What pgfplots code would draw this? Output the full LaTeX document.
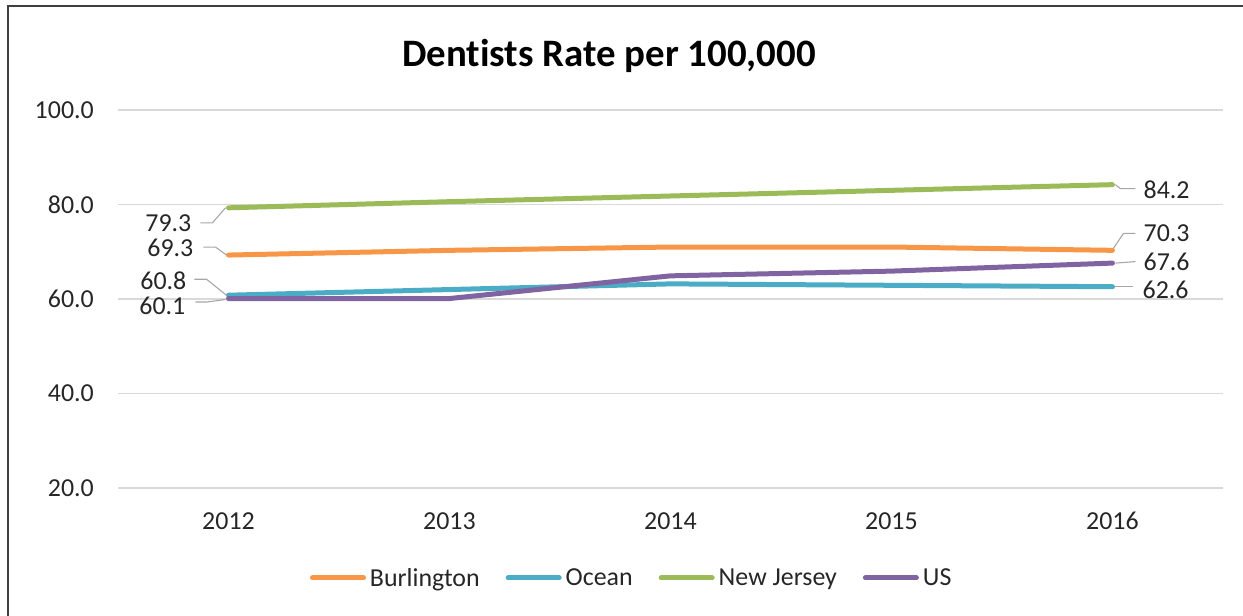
\documentclass[border=0pt]{standalone}
\usepackage{pgfplots}
\pgfplotsset{compat=1.18}
\usepackage{fontspec}
\setmainfont[Ligatures=NoCommon]{Carlito}

\definecolor{cBur}{HTML}{F79646}
\definecolor{cOce}{HTML}{4BACC6}
\definecolor{cNJ}{HTML}{9BBB59}
\definecolor{cUS}{HTML}{8064A2}
\definecolor{cGrid}{HTML}{D9D9D9}
\definecolor{cTxt}{HTML}{262626}
\definecolor{cLead}{HTML}{A6A6A6}

\begin{document}
\begin{tikzpicture}
\useasboundingbox (0bp,0bp) rectangle (1243bp,616bp);
% chart frame (left and top edges)
\draw[black!75, line width=2bp] (8bp,-2bp) -- (8bp,610bp) -- (1245bp,610bp);
% title
\node[anchor=base, font=\bfseries\fontsize{39}{42}\selectfont, text=black] at (609bp,549bp) {Dentists Rate per 100,000};

\begin{axis}[
  at={(118bp,128bp)}, anchor=south west,
  scale only axis, width=1105bp, height=378bp,
  xmin=2011.5, xmax=2016.5, ymin=20, ymax=100,
  xtick={2012,2013,2014,2015,2016},
  xticklabels={2012,2013,2014,2015,2016},
  ytick={20,40,60,80,100},
  yticklabels={20.0,40.0,60.0,80.0,100.0},
  major tick length=0pt,
  axis line style={draw=none},
  ymajorgrids, grid style={cGrid, line width=1.6bp},
  tick label style={font=\fontsize{26}{28}\selectfont, text=cTxt, inner sep=0pt},
  yticklabel style={anchor=east, xshift=-24bp},
  xticklabel style={anchor=north, yshift=-24bp},
  clip=false,
  legend columns=4,
  legend style={at={(0.464,-0.238)}, anchor=center, draw=none, fill=none,
    font=\fontsize{26}{28}\selectfont, text=cTxt, inner sep=0pt,
    nodes={inner sep=0pt, anchor=west},
    /tikz/every even column/.append style={column sep=26bp},
    /tikz/every odd column/.append style={column sep=4bp}},
  legend image code/.code={\draw[#1, line width=5bp, line cap=round] (2bp,0bp) -- (53bp,0bp);},
  every axis plot/.append style={line width=5bp, line cap=round, line join=round},
]
% horizontal axis line at 20
\draw[cGrid, line width=1.6bp] (axis cs:2011.5,20) -- (axis cs:2016.5,20);

\addplot[cBur] coordinates {(2012,69.3) (2013,70.3) (2014,71.0) (2015,71.0) (2016,70.3)};
\addlegendentry{Burlington}
\addplot[cOce] coordinates {(2012,60.8) (2013,62.0) (2014,63.2) (2015,62.9) (2016,62.6)};
\addlegendentry{Ocean}
\addplot[cNJ] coordinates {(2012,79.3) (2013,80.6) (2014,81.8) (2015,83.0) (2016,84.2)};
\addlegendentry{New Jersey}
\addplot[cUS] coordinates {(2012,60.1) (2013,60.1) (2014,64.9) (2015,65.9) (2016,67.6)};
\addlegendentry{US}

% data labels with leader lines
\begin{scope}[every node/.style={font=\fontsize{26}{28}\selectfont, text=cTxt, inner sep=0pt},
              lead/.style={cLead, line width=1.1bp}]
  % first year
  \draw[lead] ([shift={(-3bp,0bp)}]axis cs:2012,79.3) -- ++(-13bp,-15bp) -- ++(-12bp,0bp);
  \node[anchor=east] at ([shift={(-37bp,-15bp)}]axis cs:2012,79.3) {79.3};
  \draw[lead] ([shift={(-2bp,0bp)}]axis cs:2012,69.3) -- ++(-11bp,8bp) -- ++(-12bp,0bp);
  \node[anchor=east] at ([shift={(-35bp,7bp)}]axis cs:2012,69.3) {69.3};
  \draw[lead] ([shift={(-2bp,0bp)}]axis cs:2012,60.8) -- ++(-20bp,16bp) -- ++(-12bp,0bp);
  \node[anchor=east] at ([shift={(-42bp,14bp)}]axis cs:2012,60.8) {60.8};
  \draw[lead] ([shift={(-3bp,-1bp)}]axis cs:2012,60.1) -- ++(-19bp,-2.5bp) -- ++(-11bp,0bp);
  \node[anchor=east] at ([shift={(-43bp,-7.5bp)}]axis cs:2012,60.1) {60.1};
  % last year
  \draw[lead] ([shift={(3bp,0bp)}]axis cs:2016,84.2) -- ++(5bp,-4bp) -- ++(15bp,0bp);
  \node[anchor=west] at ([shift={(31bp,-5bp)}]axis cs:2016,84.2) {84.2};
  \draw[lead] ([shift={(1bp,2bp)}]axis cs:2016,70.3) -- ++(10bp,15bp) -- ++(12bp,0bp);
  \node[anchor=west] at ([shift={(31bp,17bp)}]axis cs:2016,70.3) {70.3};
  \draw[lead] ([shift={(3bp,0bp)}]axis cs:2016,67.6) -- ++(20bp,1.5bp);
  \node[anchor=west] at ([shift={(31bp,1bp)}]axis cs:2016,67.6) {67.6};
  \draw[lead] ([shift={(3bp,0bp)}]axis cs:2016,62.6) -- ++(18bp,0bp);
  \node[anchor=west] at ([shift={(30bp,-3bp)}]axis cs:2016,62.6) {62.6};
\end{scope}
\end{axis}
\end{tikzpicture}
\end{document}
